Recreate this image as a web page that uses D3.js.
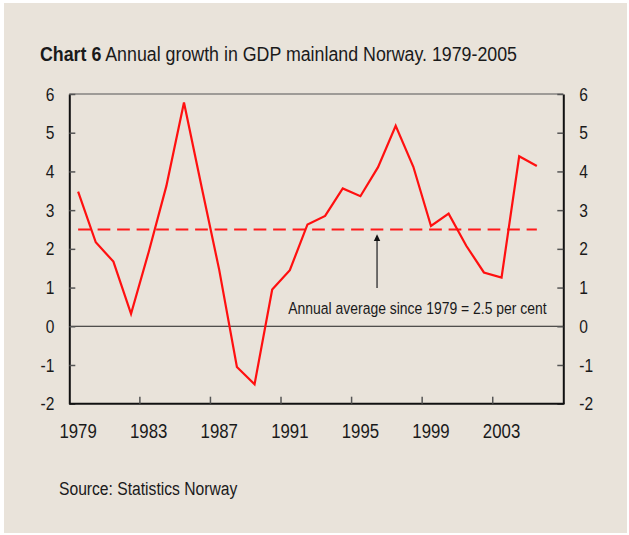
<!DOCTYPE html>
<html>
<head>
<meta charset="utf-8">
<script src="https://cdn.jsdelivr.net/npm/d3@7"></script>
<style>
body { margin: 0; background: #fff; }
text { font-family: "Liberation Sans", Arial, sans-serif; fill: #1a1a1a; }
</style>
</head>
<body>
<script>
var years = d3.range(1979, 2007); // bands 1979..2006
var growthYears = d3.range(1979, 2006);
var growth = [3.48, 2.17, 1.67, 0.32, 1.92, 3.62, 5.78, 3.6, 1.45, -1.05, -1.5, 0.95, 1.45,
	2.63, 2.85, 3.56, 3.36, 4.11, 5.18, 4.12, 2.59, 2.91, 2.08, 1.39, 1.26, 4.39, 4.14];
var average = 2.5;
var yTicks = [-2, -1, 0, 1, 2, 3, 4, 5, 6];
var xTickYears = [1979, 1983, 1987, 1991, 1995, 1999, 2003];

var width = 629, height = 535;
var pLeft = 69.3, pRight = 563.3, pTop = 94, pBottom = 403.7;

var svg = d3.select("body").append("svg")
	.attr("width", width)
	.attr("height", height);

svg.append("rect")
	.attr("x", 4).attr("y", 3)
	.attr("width", 623).attr("height", 530)
	.attr("fill", "#e9e3da");

var x = d3.scaleBand()
	.domain(years)
	.range([pLeft, pRight])
	.padding(0);

var y = d3.scaleLinear()
	.domain([-2, 6])
	.range([pBottom, pTop]);

var bw = x.bandwidth();

// squeeze Liberation Sans so it reads like a narrow face
function narrow(sel, k) {
	k = k || 0.82;
	sel.each(function() {
		var t = d3.select(this);
		var x0 = +t.attr("x") || 0;
		t.attr("x", x0 / k).attr("transform", "scale(" + k + ",1)");
	});
}

// title
var title = svg.append("text")
	.attr("x", 40).attr("y", 61)
	.style("font-size", "20px");
title.append("tspan").style("font-weight", "bold").text("Chart 6");
title.append("tspan").text(" Annual growth in GDP mainland Norway. 1979-2005");
narrow(title, 0.89);

// top frame line
svg.append("line")
	.attr("x1", pLeft).attr("x2", pRight)
	.attr("y1", pTop).attr("y2", pTop)
	.attr("stroke", "#555").attr("stroke-width", 1.2);

// zero line
svg.append("line")
	.attr("x1", pLeft).attr("x2", pRight)
	.attr("y1", y(0)).attr("y2", y(0))
	.attr("stroke", "#222").attr("stroke-width", 1);

// left axis
var gl = svg.append("g")
	.attr("transform", "translate(" + pLeft + ",0)")
	.call(d3.axisLeft(y).tickValues(yTicks).tickFormat(String).tickSize(-6).tickPadding(15).tickSizeOuter(0));
// right axis
var gr = svg.append("g")
	.attr("transform", "translate(" + pRight + ",0)")
	.call(d3.axisRight(y).tickValues(yTicks).tickFormat(String).tickSize(-6).tickPadding(16).tickSizeOuter(0));

[gl, gr].forEach(function(g) {
	g.select(".domain").attr("stroke", "#111").attr("stroke-width", 2);
	g.selectAll(".tick line").attr("stroke", "#555").attr("stroke-width", 1.5);
	g.selectAll(".tick text")
		.style("font-size", "19px")
		.attr("fill", "#1a1a1a")
		.attr("font-family", null)
		.call(narrow);
});

// bottom axis: labels centred on the years, ticks on band edges
var gb = svg.append("g")
	.attr("transform", "translate(0," + pBottom + ")")
	.call(d3.axisBottom(x).tickValues(xTickYears).tickSize(0).tickPadding(20).tickSizeOuter(0));
gb.select(".domain").remove();
gb.selectAll(".tick text")
	.style("font-size", "20.5px")
	.attr("fill", "#1a1a1a")
	.attr("font-family", null)
	.call(narrow);

svg.append("line")
	.attr("x1", pLeft).attr("x2", pRight + 1)
	.attr("y1", pBottom).attr("y2", pBottom)
	.attr("stroke", "#111").attr("stroke-width", 2);

svg.selectAll(".xtick")
	.data(xTickYears.slice(1))
	.enter().append("line")
	.attr("class", "xtick")
	.attr("x1", function(d) { return x(d); })
	.attr("x2", function(d) { return x(d); })
	.attr("y1", pBottom).attr("y2", pBottom - 7)
	.attr("stroke", "#555").attr("stroke-width", 1.5);

// average dashed line
svg.append("line")
	.attr("x1", x(1979) + bw / 2).attr("x2", x(2005) + bw / 2)
	.attr("y1", y(average)).attr("y2", y(average))
	.attr("stroke", "#ff1a1a").attr("stroke-width", 2.2)
	.attr("stroke-dasharray", "12.7,6.8");

// growth line
var line = d3.line()
	.x(function(d, i) { return x(growthYears[i]) + bw / 2; })
	.y(function(d) { return y(d); });

svg.append("path")
	.datum(growth)
	.attr("d", line)
	.attr("fill", "none")
	.attr("stroke", "#ff1010")
	.attr("stroke-width", 2.2)
	.attr("stroke-linejoin", "miter");

// arrow annotation
var ax = x(1996) + bw / 2 - 1;
svg.append("line")
	.attr("x1", ax).attr("x2", ax)
	.attr("y1", y(0.99)).attr("y2", y(2.2))
	.attr("stroke", "#444").attr("stroke-width", 1.5);
svg.append("path")
	.attr("d", "M" + ax + "," + y(2.38) + "L" + (ax - 3.2) + "," + y(2.2) + "L" + (ax + 3.2) + "," + y(2.2) + "Z")
	.attr("fill", "#111");

svg.append("text")
	.attr("x", 288.3).attr("y", y(0.32))
	.style("font-size", "16.5px")
	.text("Annual average since 1979 = " + average + " per cent")
	.call(narrow, 0.845);

// source
svg.append("text")
	.attr("x", 59).attr("y", 495)
	.style("font-size", "18px")
	.text("Source: Statistics Norway")
	.call(narrow, 0.87);
</script>
</body>
</html>
